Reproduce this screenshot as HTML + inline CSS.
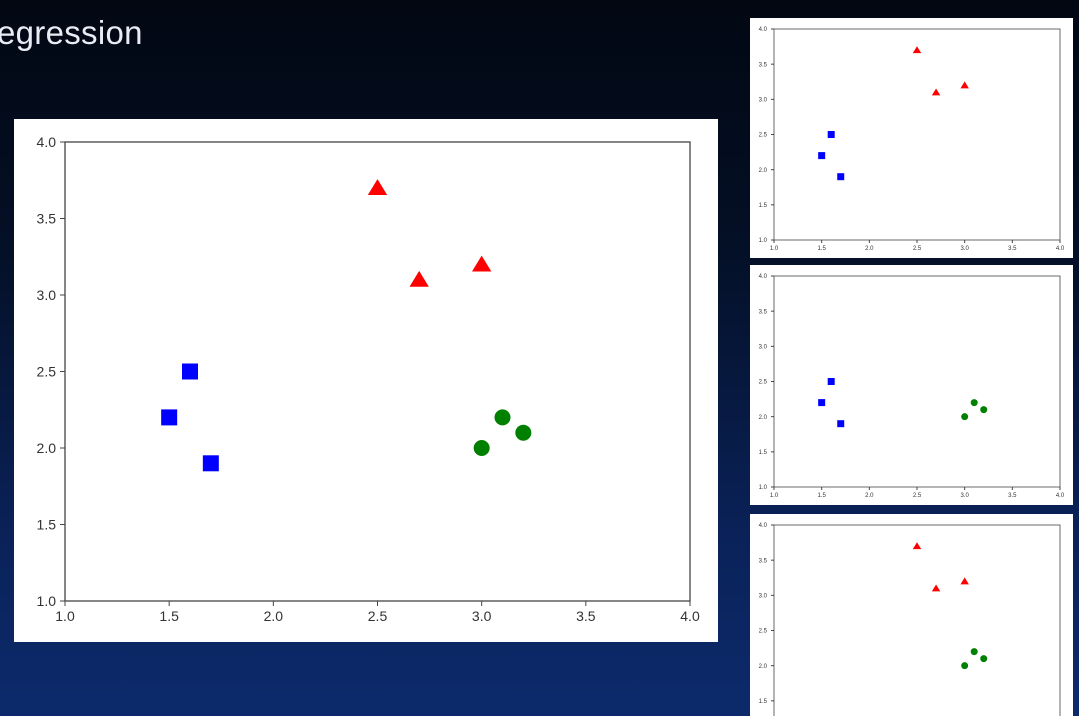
<!DOCTYPE html>
<html><head><meta charset="utf-8"><style>
html,body{margin:0;padding:0;width:1079px;height:716px;overflow:hidden;}
body{background:linear-gradient(180deg,#020712 0%,#041027 35%,#0a2259 75%,#0c2a6b 100%);font-family:"Liberation Sans",sans-serif;position:relative;}
.title{position:absolute;left:-3px;top:14px;color:#e8ecf4;font-size:33px;font-weight:normal;letter-spacing:0.3px;}
.panel{position:absolute;background:#fff;}
svg{position:absolute;left:0;top:0;}
</style></head><body>
<div class="title">egression</div>
<div class="panel" style="left:14px;top:119px;width:704px;height:523px"></div>
<div class="panel" style="left:750px;top:18px;width:323px;height:240px"></div>
<div class="panel" style="left:750px;top:265px;width:323px;height:240px"></div>
<div class="panel" style="left:750px;top:514px;width:323px;height:202px"></div>
<svg id="s" width="1079" height="716"></svg>
<script>
const ticks=[1.0,1.5,2.0,2.5,3.0,3.5,4.0];
const squareX=[1.5,1.6,1.7], squareY=[2.2,2.5,1.9];
const triX=[2.5,2.7,3.0], triY=[3.7,3.1,3.2];
const circX=[3.0,3.1,3.2], circY=[2.0,2.2,2.1];
const NS="http://www.w3.org/2000/svg";
const svg=document.getElementById('s');
function mk(t,a,p){const e=document.createElementNS(NS,t);for(const k in a)e.setAttribute(k,a[k]);(p||svg).appendChild(e);return e;}
function chart(name,L,T,R,B,fs,ms,show){
  const g=mk('g',{});
  
  
  const sx=v=>L+(v-1)/3*(R-L), sy=v=>B-(v-1)/3*(B-T);
  const box=mk('rect',{x:L,y:T,width:R-L,height:B-T,fill:'none',stroke:'#444',"stroke-width":fs>10?1.3:0.8},g);
  
  
  const tl=fs>10?5:3;
  ticks.forEach(t=>{
    mk('line',{x1:sx(t),x2:sx(t),y1:B,y2:B+tl,stroke:'#444'},g);
    const xt=mk('text',{x:sx(t),y:B+tl+fs+1,"font-size":fs,"text-anchor":"middle",fill:'#333'},g);
    xt.textContent=t.toFixed(1);
    
    
    mk('line',{x1:L-tl,x2:L,y1:sy(t),y2:sy(t),stroke:'#444'},g);
    const yt=mk('text',{x:L-tl-4,y:sy(t)+fs*0.35,"font-size":fs,"text-anchor":"end",fill:'#333'},g);
    yt.textContent=t.toFixed(1);
    
    
  });
  if(show.sq) squareX.forEach((x,i)=>{
    const r=mk('rect',{x:sx(x)-ms/2,y:sy(squareY[i])-ms/2,width:ms,height:ms,fill:'#0000ff'},g);
    
    
  });
  if(show.tri) triX.forEach((x,i)=>{
    const cx=sx(x),cy=sy(triY[i]),h=ms*0.55;
    const p=mk('polygon',{points:`${cx},${cy-h} ${cx-h*1.1},${cy+h*0.8} ${cx+h*1.1},${cy+h*0.8}`,fill:'#ff0000'},g);
    
    
  });
  if(show.circ) circX.forEach((x,i)=>{
    const c=mk('circle',{cx:sx(x),cy:sy(circY[i]),r:ms/2,fill:'#008000'},g);
    
    
  });
}
chart('main-chart',65,142,690,601,14,16,{sq:1,tri:1,circ:1});
chart('small-chart-1',774,29,1060,240,6,7,{sq:1,tri:1});
chart('small-chart-2',774,276,1060,487,6,7,{sq:1,circ:1});
chart('small-chart-3',774,525,1060,736,6,7,{tri:1,circ:1});
</script>
</body></html>
